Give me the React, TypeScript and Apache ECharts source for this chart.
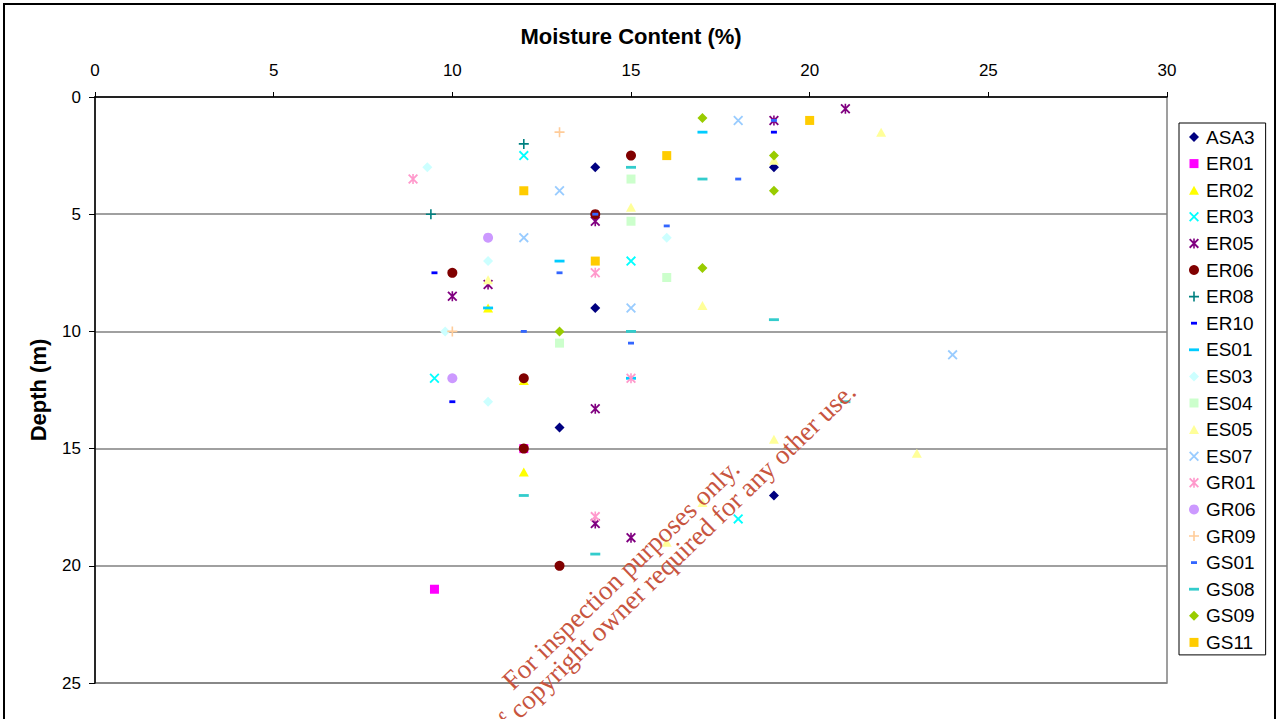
import React, { useEffect, useRef } from 'react';
import * as echarts from 'echarts';

// Borehole samples: [moisture content (%), depth (m)]
const seriesNames = [
  'ASA3', 'ER01', 'ER02', 'ER03', 'ER05', 'ER06', 'ER08', 'ER10', 'ES01', 'ES03',
  'ES04', 'ES05', 'ES07', 'GR01', 'GR06', 'GR09', 'GS01', 'GS08', 'GS09', 'GS11',
];

const asa3 = [[14, 3], [19, 3], [14, 9], [13, 14.1], [19, 17]];
const er01 = [[12, 15], [9.5, 21]];
const er02 = [[11, 9], [12, 12.1], [12, 16]];
const er03 = [[12, 2.5], [15, 7], [9.5, 12], [18, 18]];
const er05 = [[21, 0.5], [19, 1], [14, 5.3], [11, 8], [10, 8.5], [14, 13.3], [14, 18.2], [15, 18.8]];
const er06 = [[15, 2.5], [14, 5], [10, 7.5], [12, 12], [12, 15], [13, 20]];
const er08 = [[12, 2], [9.4, 5]];
const er10 = [[19, 1.5], [9.5, 7.5], [10, 13]];
const es01 = [[17, 1.5], [13, 7], [11, 9], [15, 12]];
const es03 = [[9.3, 3], [16, 6], [11, 7], [9.8, 10], [11, 13]];
const es04 = [[15, 3.5], [15, 5.3], [16, 7.7], [13, 10.5]];
const es05 = [[22, 1.5], [19, 2.7], [15, 4.7], [11, 7.8], [17, 8.9], [19, 14.6], [23, 15.2], [17, 17.3], [16, 19]];
const es07 = [[18, 1], [13, 4], [12, 6], [15, 9], [24, 11]];
const gr01 = [[8.9, 3.5], [14, 7.5], [15, 12], [14, 17.9]];
const gr06 = [[11, 6], [10, 12]];
const gr09 = [[13, 1.5], [10, 10]];
const gs01 = [[19, 1], [18, 3.5], [14, 5], [16, 5.5], [13, 7.5], [12, 10], [15, 10.5]];
const gs08 = [[15, 3], [17, 3.5], [19, 9.5], [15, 10], [21, 13], [12, 17], [14, 19.5]];
const gs09 = [[17, 0.9], [19, 2.5], [19, 4], [17, 7.3], [13, 10]];
const gs11 = [[20, 1], [16, 2.5], [12, 4], [14, 7]];

const seriesData = [
  asa3, er01, er02, er03, er05, er06, er08, er10, es01, es03,
  es04, es05, es07, gr01, gr06, gr09, gs01, gs08, gs09, gs11,
];

const seriesColors = [
  '#000080', '#FF00FF', '#FFFF00', '#00FFFF', '#800080', '#800000', '#008080', '#0000FF', '#00CCFF', '#CCFFFF',
  '#CCFFCC', '#FFFF99', '#99CCFF', '#FF99CC', '#CC99FF', '#FFCC99', '#3366FF', '#33CCCC', '#99CC00', '#FFCC00',
];

const seriesMarkers = [
  'diamond', 'square', 'triangle', 'cross', 'star', 'circle', 'plus', 'dashShort', 'dashLong', 'diamond',
  'square', 'triangle', 'cross', 'star', 'circle', 'plus', 'dashShort', 'dashLong', 'diamond', 'square',
];

// Marker outlines in a 10x10 box; the leading moves pin the box size.
const FRAME = 'M0,0M10,10';
const X_ARMS = 'M0,1.3L1.3,0L10,8.7L8.7,10Z M8.7,0L10,1.3L1.3,10L0,8.7Z';
const V_BAR = 'M4.2,0H5.8V10H4.2Z';
const H_BAR = 'M0,4.2H10V5.8H0Z';
const MARKERS: Record<string, string> = {
  diamond: 'path://M5,0L10,5L5,10L0,5Z',
  square: 'path://' + FRAME + 'M0.5,0.5H9.5V9.5H0.5Z',
  triangle: 'path://' + FRAME + 'M5,0.5L10,9.5L0,9.5Z',
  cross: 'path://' + FRAME + X_ARMS,
  star: 'path://' + FRAME + X_ARMS + V_BAR,
  plus: 'path://' + FRAME + V_BAR + H_BAR,
  dashShort: 'path://' + FRAME + 'M2,3.6H8V6.4H2Z',
  dashLong: 'path://' + FRAME + 'M0,3.6H10V6.4H0Z',
  circle: 'circle',
};

const SANS = '"Liberation Sans", Arial, sans-serif';
const SERIF = '"Liberation Serif", "Times New Roman", serif';

export default function App() {
  const ref = useRef<HTMLDivElement>(null);

  useEffect(() => {
    if (!ref.current) return;
    const chart = echarts.init(ref.current, undefined, { renderer: 'svg' });
    const rot = (44 * Math.PI) / 180;

    chart.setOption({
      animation: false,
      backgroundColor: '#ffffff',
      grid: {
        left: 95,
        top: 97,
        right: 111,
        bottom: 36,
        show: true,
        borderColor: '#808080',
        borderWidth: 1.5,
        backgroundColor: 'transparent',
      },
      xAxis: {
        type: 'value',
        position: 'top',
        min: 0,
        max: 30,
        interval: 5,
        name: 'Moisture Content (%)',
        nameLocation: 'middle',
        nameGap: 61,
        nameTextStyle: { fontFamily: SANS, fontSize: 22, fontWeight: 'bold', color: '#000', verticalAlign: 'middle' },
        axisLine: { show: true, onZero: false, lineStyle: { color: '#000', width: 1.5 } },
        axisTick: { show: true, inside: false, length: 5, lineStyle: { color: '#000', width: 1 } },
        axisLabel: { fontFamily: SANS, fontSize: 17, color: '#000', margin: 18 },
        splitLine: { show: false },
      },
      yAxis: {
        type: 'value',
        inverse: true,
        min: 0,
        max: 25,
        interval: 5,
        name: 'Depth (m)',
        nameLocation: 'middle',
        nameGap: 57,
        nameRotate: 90,
        nameTextStyle: { fontFamily: SANS, fontSize: 22, fontWeight: 'bold', color: '#000', verticalAlign: 'middle' },
        axisLine: { show: true, onZero: false, lineStyle: { color: '#000', width: 1.5 } },
        axisTick: { show: true, inside: false, length: 6, lineStyle: { color: '#000', width: 1 } },
        axisLabel: { fontFamily: SANS, fontSize: 17, color: '#000', margin: 14 },
        splitLine: { show: true, lineStyle: { color: '#808080', width: 1.5 } },
      },
      legend: {
        orient: 'vertical',
        left: 1179,
        top: 123,
        padding: [4.5, 10, 3, 10],
        itemGap: 7.6,
        itemWidth: 10,
        itemHeight: 10,
        borderColor: '#000',
        borderWidth: 1,
        backgroundColor: '#fff',
        selectedMode: false,
        textStyle: { fontFamily: SANS, fontSize: 19, color: '#000', lineHeight: 19, padding: [0, 0, 0, 2] },
        data: seriesNames,
      },
      series: seriesNames.map((name, i) => ({
        type: 'scatter',
        name,
        data: seriesData[i],
        symbol: MARKERS[seriesMarkers[i]],
        symbolSize: 10,
        symbolKeepAspect: true,
        itemStyle: { color: seriesColors[i], opacity: 1 },
        silent: true,
        emphasis: { disabled: true },
      })),
      graphic: [
        {
          type: 'rect',
          z: 0,
          shape: { x: 4, y: 4, width: 1271, height: 760 },
          style: { fill: 'none', stroke: '#000', lineWidth: 2 },
          silent: true,
        },
        {
          type: 'text',
          z: 100,
          x: 621,
          y: 574.5,
          rotation: rot,
          silent: true,
          style: {
            text: 'For inspection purposes only.',
            font: `27px ${SERIF}`,
            fill: '#C8553F',
            align: 'center',
            verticalAlign: 'middle',
          },
        },
        {
          type: 'text',
          z: 100,
          x: 637.7,
          y: 593.5,
          rotation: rot,
          silent: true,
          style: {
            text: 'Consent of copyright owner required for any other use.',
            font: `27px ${SERIF}`,
            fill: '#C8553F',
            align: 'center',
            verticalAlign: 'middle',
          },
        },
      ],
    });

    return () => chart.dispose();
  }, []);

  return (
    <div
      ref={ref}
      style={{ position: 'absolute', left: 0, top: 0, width: 1278, height: 719, background: '#fff' }}
    />
  );
}
